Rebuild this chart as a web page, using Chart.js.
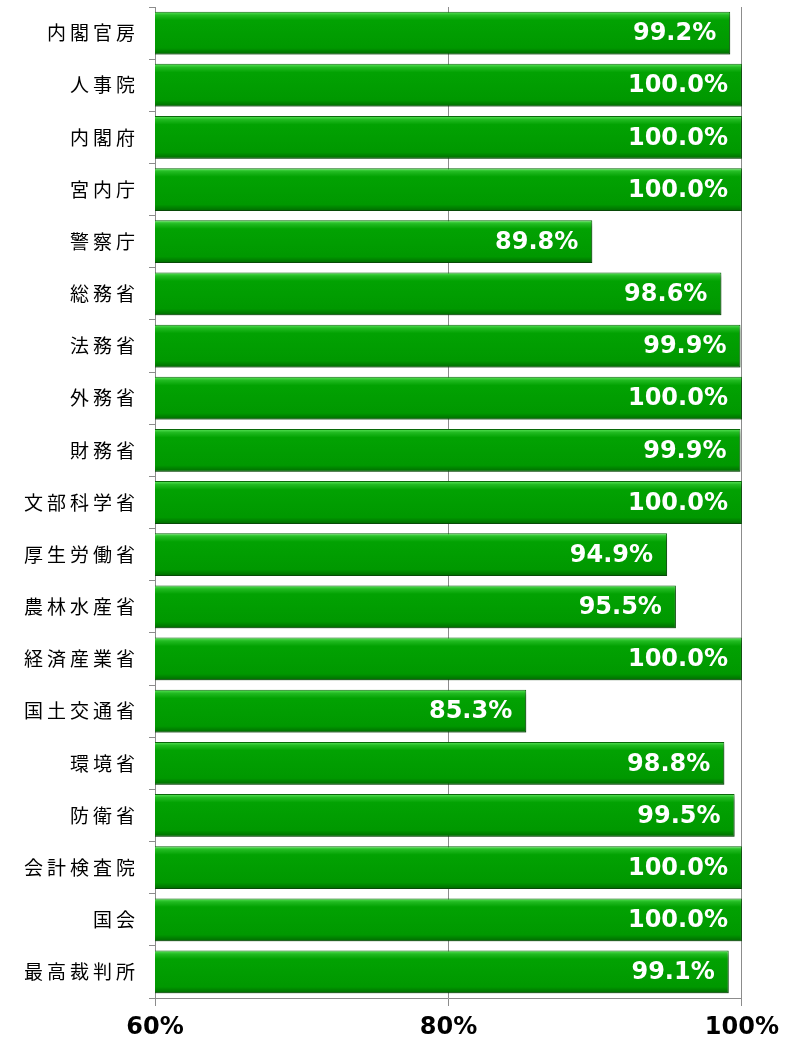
<!DOCTYPE html>
<html>
<head>
<meta charset="utf-8">
<script src="https://cdn.jsdelivr.net/npm/chart.js@4"></script>
<style>
  html, body { margin: 0; padding: 0; background: #fff; }
  #wrap { width: 786px; height: 1039px; }
</style>
</head>
<body>
<div id="wrap"><canvas id="rate"></canvas></div>
<script>
const categories = ['内閣官房', '人事院', '内閣府', '宮内庁', '警察庁', '総務省', '法務省', '外務省', '財務省', '文部科学省',
  '厚生労働省', '農林水産省', '経済産業省', '国土交通省', '環境省', '防衛省', '会計検査院', '国会', '最高裁判所'];
const rates = [99.2, 100.0, 100.0, 100.0, 89.8, 98.6, 99.9, 100.0, 99.9, 100.0,
  94.9, 95.5, 100.0, 85.3, 98.8, 99.5, 100.0, 100.0, 99.1];
const xTicks = [60, 80, 100];

const latin = '"DejaVu Sans", Verdana, sans-serif';
const barPct = 0.82;

// green bar with light top edge and dark bottom
function barFill(ctx) {
  const chart = ctx.chart;
  const y = chart.scales.y;
  if (!y || !chart.chartArea) return '#009900';
  const c = y.getPixelForValue(ctx.dataIndex);
  const band = (y.bottom - y.top) / categories.length;
  const h = band * barPct;
  const g = chart.ctx.createLinearGradient(0, c - h / 2, 0, c + h / 2);
  g.addColorStop(0, '#5ee85e');
  g.addColorStop(0.08, '#22bb22');
  g.addColorStop(0.2, '#02a202');
  g.addColorStop(0.85, '#009800');
  g.addColorStop(1, '#006a00');
  return g;
}

const shadow = {
  id: 'shadow',
  beforeDatasetDraw(chart) {
    const c = chart.ctx;
    c.save();
    c.shadowColor = 'rgba(0,0,0,0.35)';
    c.shadowBlur = 4;
    c.shadowOffsetX = 3;
    c.shadowOffsetY = 3;
  },
  afterDatasetDraw(chart) {
    chart.ctx.restore();
  }
};

const valueLabels = {
  id: 'valueLabels',
  afterDatasetsDraw(chart) {
    const c = chart.ctx;
    const meta = chart.getDatasetMeta(0);
    c.save();
    c.font = 'bold 24px ' + latin;
    c.fillStyle = '#fff';
    c.textAlign = 'right';
    c.textBaseline = 'middle';
    meta.data.forEach((bar, i) => {
      c.fillText(rates[i].toFixed(1) + '%', bar.x - 14, bar.y + 1);
    });
    c.restore();
  }
};

new Chart(document.getElementById('rate'), {
  type: 'bar',
  data: {
    labels: categories,
    datasets: [{
      data: rates,
      backgroundColor: barFill,
      borderColor: '#0a6a0a',
      borderWidth: 1,
      borderSkipped: false,
      categoryPercentage: barPct,
      barPercentage: 1
    }]
  },
  options: {
    indexAxis: 'y',
    responsive: true,
    maintainAspectRatio: false,
    animation: false,
    layout: { padding: { top: 7, right: 44, bottom: 0, left: 0 } },
    plugins: { legend: { display: false }, tooltip: { enabled: false } },
    scales: {
      x: {
        min: 60,
        max: 100,
        afterBuildTicks(scale) { scale.ticks = xTicks.map(v => ({ value: v })); },
        afterFit(scale) { scale.height = 41; },
        grid: { color: '#8c8c8c', lineWidth: 1, tickLength: 8 },
        border: { color: '#8c8c8c' },
        ticks: {
          color: '#000',
          padding: 7,
          maxRotation: 0,
          font: { family: latin, size: 24, weight: 'bold' },
          callback: v => v + '%'
        }
      },
      y: {
        afterFit(scale) {
          scale.width = 155;
          scale.paddingTop = 0;
          scale.paddingBottom = 0;
          if (!scale._spaced) {
            // wider letter spacing for the Japanese labels
            const orig = scale.drawLabels;
            scale.drawLabels = function (area) {
              this.ctx.save();
              this.ctx.letterSpacing = '4px';
              orig.call(this, area);
              this.ctx.restore();
            };
            scale._spaced = true;
          }
        },
        grid: { drawOnChartArea: false, color: '#8c8c8c', tickLength: 6 },
        border: { color: '#8c8c8c' },
        ticks: {
          color: '#000',
          padding: 10,
          font: { family: '"Noto Sans CJK JP", sans-serif', size: 19 }
        }
      }
    }
  },
  plugins: [shadow, valueLabels]
});
</script>
</body>
</html>
